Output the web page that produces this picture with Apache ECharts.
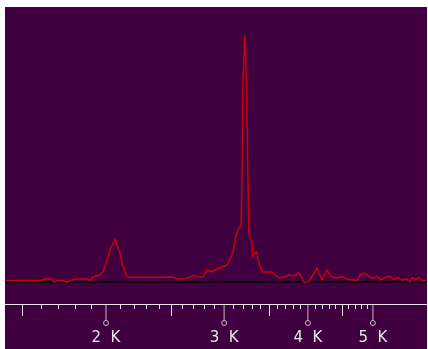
<!DOCTYPE html>
<html>
<head>
<meta charset="utf-8">
<script src="https://cdn.jsdelivr.net/npm/echarts@6/dist/echarts.min.js"></script>
<style>
  html, body { margin: 0; padding: 0; background: #fff; }
  #chart { position: absolute; left: 5px; top: 7px; width: 422px; height: 342px; }
</style>
</head>
<body>
<div id="chart"></div>
<script>
// spectrum, frequency in Hz (log axis) vs amplitude (arbitrary units, 0 = black baseline)
var freqs = [1415, 1605, 1628, 1661, 1673, 1691, 1726, 1749, 1767, 1798, 1874, 1893, 1913, 1959, 1980,
  2007, 2028, 2063, 2077, 2098, 2120, 2149, 2172, 2225, 2232, 2263, 2517, 2552, 2596, 2605, 2668, 2696,
  2733, 2790, 2829, 2878, 2927, 3030, 3093, 3114, 3146, 3179, 3190, 3200, 3222, 3239, 3256, 3267, 3301,
  3312, 3335, 3358, 3370, 3393, 3428, 3535, 3621, 3684, 3748, 3813, 3879, 3946, 4014, 4055, 4126, 4197,
  4270, 4329, 4419, 4495, 4573, 4684, 4733, 4798, 4881, 4931, 5017, 5069, 5139, 5192, 5282, 5373, 5429,
  5523, 5618, 5677, 5716, 5795, 5855, 5915, 6018];
var levels = [1.5, 1.7, 3.3, 2.7, -0.3, 1.5, 1.5, -0.3, 1, 3, 3, 1.3, 5.3, 7, 10.3,
  22, 32, 43, 42, 29, 15.3, 5.3, 4.7, 4.7, 3, 4.7, 4.7, 3, 3, 4.7, 4.7, 6.7,
  5.3, 5, 12, 10, 13, 17, 29, 42, 52, 57, 105, 200, 247, 199, 102, 49, 39,
  25, 29, 30, 22, 15, 10, 10, 4, 5, 7, 6, 9.3, -0.3, 0.3, 5.3, 14, 2,
  12, 5.3, 4, 5.3, 2.7, 2, 1.3, 8, 8.7, 5.3, 3.7, 6, 2, 3.7, 6, 2.7, 4.7,
  2, 3.3, -0.3, 4.7, 2.7, 4.7, 1.3, 2];

var majorTicks = [2000, 3000, 4000, 5000];
var mediumTicks = [1500, 2500, 3500, 4500];
var minorTicks = [];
for (var v = 1500; v <= 5000; v += 100) {
  if (v % 500 !== 0) minorTicks.push(v);
}

var X_MIN = 1414, X_MAX = 6020;
var purple = '#400040';
var white = '#e6e6e6';

var chart = echarts.init(document.getElementById('chart'));

function tickAxis(values, len, extra) {
  var ax = {
    type: 'log', logBase: 10, min: X_MIN, max: X_MAX, gridIndex: 0, position: 'bottom', offset: 0,
    axisLine: { show: false, onZero: false },
    splitLine: { show: false },
    axisTick: { show: true, length: len, customValues: values, lineStyle: { color: white, width: 1 } },
    axisLabel: { show: false }
  };
  return Object.assign(ax, extra || {});
}

chart.setOption({
  animation: false,
  backgroundColor: purple,
  grid: { left: 0, right: 0, top: 0, bottom: 45 },
  xAxis: [
    tickAxis(minorTicks, 5, { axisLine: { show: true, onZero: false, lineStyle: { color: white, width: 1 } } }),
    tickAxis(mediumTicks, 12),
    tickAxis(majorTicks, 0, {
      axisTick: { show: false },
      axisLabel: {
        show: true, customValues: majorTicks, margin: 27,
        color: white, fontSize: 15, fontFamily: 'DejaVu Sans',
        formatter: function (val) { return Math.round(val / 1000) + '  K'; }
      }
    })
  ],
  yAxis: { type: 'value', min: -22, max: 275, show: false },
  series: [
    {
      type: 'line',
      data: freqs.map(function (f, i) { return [f, levels[i]]; }),
      showSymbol: false,
      symbol: 'none',
      lineStyle: { color: '#c8000a', width: 1.5 },
      z: 3,
      markLine: {
        silent: true,
        symbol: 'none',
        label: { show: false },
        lineStyle: { color: '#000', width: 1.5, type: 'solid' },
        data: [{ yAxis: 0 }],
        z: 2
      }
    },
    {
      // long stems of the major ticks
      type: 'scatter',
      clip: false,
      symbol: 'rect',
      symbolSize: [1, 17],
      itemStyle: { color: white },
      data: majorTicks.map(function (f) { return [f, -30.5]; })
    },
    {
      // little rings at the end of the major ticks
      type: 'scatter',
      clip: false,
      symbol: 'circle',
      symbolSize: 5,
      itemStyle: { color: purple, borderColor: white, borderWidth: 1 },
      data: majorTicks.map(function (f) { return [f, -41]; })
    }
  ]
});
</script>
</body>
</html>
